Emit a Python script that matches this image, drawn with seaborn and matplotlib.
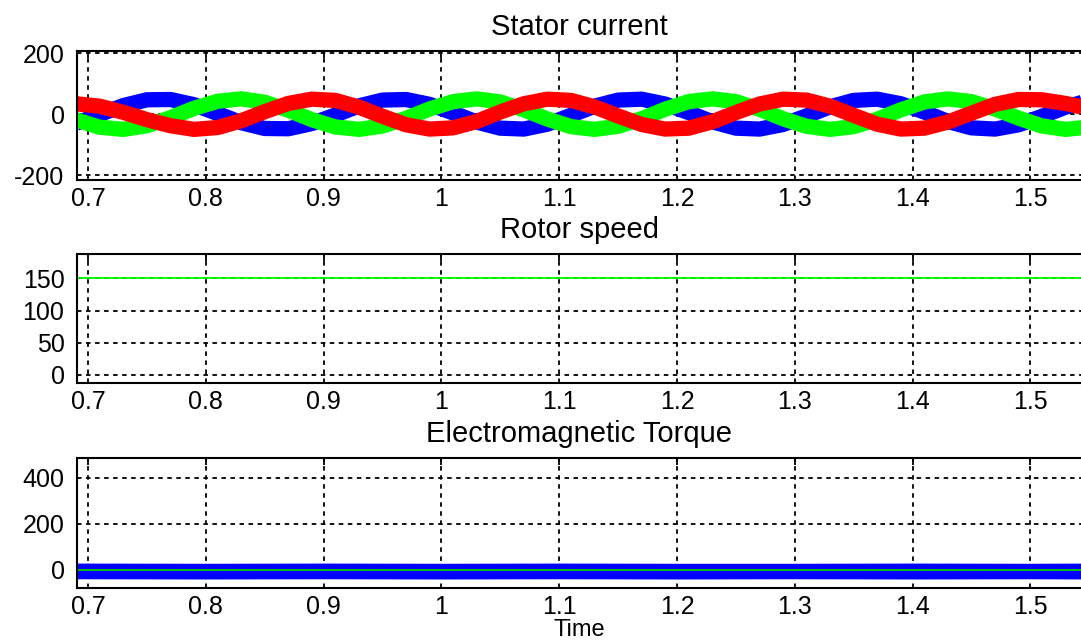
import numpy as np
import pandas as pd
import seaborn as sns
import matplotlib.pyplot as plt

# sampling instants used for the stator current traces (s)
t_is = [0.69, 0.71, 0.73, 0.75, 0.77, 0.79, 0.81, 0.83, 0.85, 0.87, 0.89,
        0.91, 0.93, 0.95, 0.97, 0.99, 1.01, 1.03, 1.05, 1.07, 1.09, 1.11,
        1.13, 1.15, 1.17, 1.19, 1.21, 1.23, 1.25, 1.27, 1.29, 1.31, 1.33,
        1.35, 1.37, 1.39, 1.41, 1.43, 1.45, 1.47, 1.49, 1.51, 1.53, 1.55]

# phase currents (A)
i_a = [-30, -1, 28, 47, 48, 31, 2, -28, -47, -48, -31, -3, 27, 46, 48,
       32, 4, -26, -46, -49, -33, -4, 26, 46, 49, 33, 5, -25, -46, -49,
       -34, -6, 24, 45, 49, 34, 7, -24, -45, -49, -35, -7, 23, 45]
i_b = [-19, -43, -50, -38, -12, 19, 42, 50, 39, 13, -18, -42, -50, -39,
       -14, 17, 41, 50, 40, 14, -16, -41, -50, -40, -15, 16, 41, 50, 41,
       16, -15, -40, -50, -41, -17, 14, 40, 50, 41, 17, -13, -39, -50, -42]
i_c = [34, 26, 6, -18, -38, -50, -44, -22, 8, 35, 49, 45, 23, -7, -35,
       -49, -45, -24, 7, 34, 49, 45, 24, -6, -34, -49, -46, -25, 5, 33,
       49, 46, 26, -4, -33, -49, -46, -26, 3, 32, 48, 47, 35, 18]

# rotor speed (rad/s)
t_w = [0.69, 1.55]
w_r = [150, 150]

# electromagnetic torque ripple envelope and load torque (N.m)
t_te = [0.69, 0.80, 0.90, 1.00, 1.10, 1.20, 1.30, 1.40, 1.50, 1.55]
te_hi = [30, 29, 30, 29, 30, 29, 29, 30, 29, 30]
te_lo = [-38, -39, -38, -39, -38, -39, -38, -39, -38, -39]
t_load = [0, 0, 0, 0, 0, 0, 0, 0, 0, 0]

x_ticks = [0.7, 0.8, 0.9, 1.0, 1.1, 1.2, 1.3, 1.4, 1.5]
x_labels = ['0.7', '0.8', '0.9', '1', '1.1', '1.2', '1.3', '1.4', '1.5']

sns.set_style('white')
plt.rcParams['font.family'] = ['Liberation Sans', 'DejaVu Sans']
plt.rcParams['font.size'] = 17.5
plt.rcParams['text.color'] = 'black'
plt.rcParams['axes.labelcolor'] = 'black'
plt.rcParams['axes.unicode_minus'] = False

fig = plt.figure(figsize=(10.81, 6.42), dpi=100)
W, H = 1081, 642


def make_axes(top, bottom):
    return fig.add_axes([77 / W, 1 - bottom / H, 1 - 77 / W, (bottom - top) / H])


ax1 = make_axes(51, 180)
ax2 = make_axes(254, 383)
ax3 = make_axes(458, 588)

# Stator current
sns.lineplot(x=t_is, y=i_a, color='#0000ff', lw=11, ax=ax1, solid_capstyle='butt')
sns.lineplot(x=t_is, y=i_b, color='#00ff00', lw=11, ax=ax1, solid_capstyle='butt')
sns.lineplot(x=t_is, y=i_c, color='#ff0000', lw=11, ax=ax1, solid_capstyle='butt')
ax1.set_ylim(-216, 207)
ax1.set_yticks([-200, 0, 200])
ax1.set_title('Stator current', pad=11.5, color='black')

# Rotor speed
sns.lineplot(x=t_w, y=w_r, color='#00ff00', lw=1.3, ax=ax2)
ax2.set_ylim(-12.5, 188)
ax2.set_yticks([0, 50, 100, 150])
ax2.set_title('Rotor speed', pad=11.5, color='black')

# Electromagnetic torque
ax3.fill_between(t_te, te_lo, te_hi, color='#0000ff', lw=0)
sns.lineplot(x=t_te, y=t_load, color='#00cc00', lw=1.3, ax=ax3)
ax3.set_ylim(-78, 485)
ax3.set_yticks([0, 200, 400])
ax3.set_title('Electromagnetic Torque', pad=11.5, color='black')
ax3.set_xlabel('Time', labelpad=0, fontsize=17)

for ax in (ax1, ax2, ax3):
    ax.set_xlim(0.6907, 1.543)
    ax.set_xticks(x_ticks)
    ax.set_xticklabels(x_labels)
    ax.grid(True, color='black', linestyle=(0, (2.5, 2.5)), lw=1.3)
    ax.set_axisbelow(True)
    ax.tick_params(direction='in', length=5, width=1.3, top=True, right=False,
                   colors='black', labelsize=18, pad=9)
    ax.tick_params(axis='x', pad=5)
    for side in ('left', 'bottom', 'top'):
        ax.spines[side].set_color('black')
        ax.spines[side].set_linewidth(1.5)
    ax.spines['right'].set_visible(False)
    if ax is not ax3:
        ax.set_xlabel('')
    ax.set_ylabel('')

plt.savefig('out.png', dpi=100)
